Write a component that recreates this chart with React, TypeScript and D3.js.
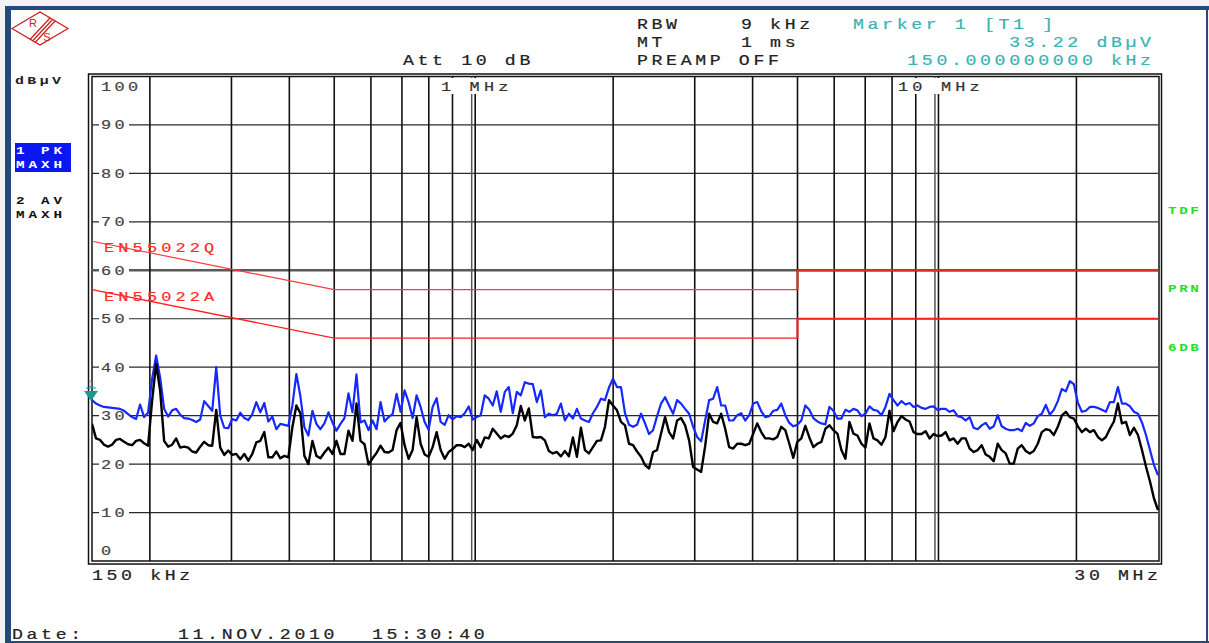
import React from "react";
import * as d3 from "d3";

// ---- Sweep definition (log sweep of the analyzer) ----
const SWEEP_START_HZ = 150e3;
const SWEEP_STOP_HZ = 30e6;

// ---- Axis ticks ----
const Y_TICKS = [0, 10, 20, 30, 40, 50, 60, 70, 80, 90, 100];
const X_GRID_HZ = [
  200e3, 300e3, 400e3, 500e3, 600e3, 700e3, 800e3, 900e3, 1e6,
  2e6, 3e6, 4e6, 5e6, 6e6, 7e6, 8e6, 9e6, 10e6, 20e6,
];
const X_DOUBLE_HZ = [1e6, 10e6];

// ---- Limit lines (EN55022 class B) ----
const LIMIT_Q_HZ = [150e3, 500e3, 5e6];
const LIMIT_Q_DB = [66, 56, 56];
const LIMIT_Q2_HZ = [5e6, 5e6, 30e6];
const LIMIT_Q2_DB = [56, 60, 60];
const LIMIT_A_HZ = [150e3, 500e3, 5e6];
const LIMIT_A_DB = [56, 46, 46];
const LIMIT_A2_HZ = [5e6, 5e6, 30e6];
const LIMIT_A2_DB = [46, 50, 50];

// ---- Trace 1: PK MAXH (dBµV per sweep point) ----
const PK_DBUV = [
  33.2, 32.5, 32.1, 31.8, 31.7, 31.6, 31.5, 31.4, 31.0, 30.3,
  29.7, 29.3, 32.3, 29.7, 30.6, 37.6, 42.4, 37.9, 31.4, 29.8,
  31.1, 31.4, 30.2, 29.5, 29.4, 29.1, 28.7, 29.2, 33.0, 32.0,
  31.0, 40.0, 30.0, 27.5, 27.4, 29.3, 29.0, 30.6, 29.5, 29.1,
  30.3, 32.8, 30.7, 32.6, 28.8, 29.8, 27.2, 28.3, 28.1, 27.9,
  32.1, 38.6, 34.0, 27.6, 25.9, 31.0, 28.3, 27.2, 28.4, 30.7,
  28.6, 26.9, 28.3, 29.5, 34.6, 30.7, 38.5, 28.6, 29.0, 27.0,
  29.0, 27.2,
  32.8, 28.8, 29.7, 30.3, 34.5, 30.8, 35.2, 32.8,
  29.5, 34.2, 31.8, 28.7, 27.1, 31.8, 33.6, 28.7, 28.1, 30.1,
  29.2, 29.9, 29.7, 30.5, 31.9, 29.2, 29.7, 30.1, 34.2, 33.5,
  32.1, 35.0, 30.8, 34.9, 35.9, 30.5, 34.9, 34.2, 36.9, 36.6,
  36.5, 32.8, 35.2, 29.7, 30.4, 30.1, 30.4, 32.5, 29.0, 30.4,
  29.4, 31.4, 29.4, 29.0,
  28.7, 30.5, 31.8, 33.5, 33.2, 35.8, 37.6, 35.9, 35.9, 30.5,
  28.1, 27.7, 28.1, 30.4, 28.4, 26.2, 27.0, 29.9, 32.5, 33.8,
  32.1, 30.4, 33.2, 32.5, 31.4, 30.4, 27.7, 25.6, 24.7, 29.0,
  33.2, 33.5, 35.9, 32.1, 32.1, 29.0, 29.0, 30.1, 30.5, 29.0,
  30.1, 32.5, 32.8, 30.9, 29.7, 29.9, 31.0, 31.2, 32.5, 30.1,
  28.5, 27.8,
  28.1, 29.0, 32.1, 31.2, 29.5, 28.8, 28.4, 28.2, 31.8, 31.0,
  29.4, 29.4, 31.2, 30.8, 31.4, 31.1, 29.9, 30.4, 31.9, 31.2,
  31.0, 30.1, 31.8, 34.5, 33.2, 32.1, 33.0, 32.3, 32.6, 31.8,
  32.1, 31.6, 31.4, 31.8, 31.9, 31.2, 31.4, 31.4, 30.8, 31.1,
  29.9, 29.7, 29.0, 29.7, 27.5, 27.2, 28.0, 28.5, 27.3, 27.8,
  30.1, 27.8,
  27.3, 27.0, 27.0, 27.3, 26.8, 28.5, 27.9, 28.4, 29.9, 30.4,
  32.2, 30.2, 31.2, 33.0, 35.5, 35.0, 37.1, 36.5, 32.7, 30.8,
  31.0, 31.8, 31.8, 31.6, 31.2, 30.8, 32.8, 32.8, 35.9, 32.5,
  32.5, 31.9, 30.8, 30.4, 28.6, 26.0, 22.9, 19.8, 17.7,
];

// ---- Trace 2: AV MAXH (dBµV per sweep point) ----
const AV_DBUV = [
  28.3, 25.3, 25.0, 24.0, 23.6, 24.0, 25.0, 25.2, 24.6, 24.1,
  23.9, 24.8, 25.0, 24.3, 23.8, 33.1, 40.7, 35.2, 24.8, 23.6,
  24.0, 25.3, 23.4, 23.6, 23.4, 22.6, 22.4, 23.6, 24.6, 23.9,
  23.8, 31.2, 23.4, 21.9, 22.8, 21.9, 22.1, 21.0, 22.1, 20.7,
  22.1, 24.5, 24.8, 26.6, 21.4, 21.4, 22.6, 21.2, 21.7, 21.4,
  27.6, 32.1, 30.5, 21.7, 20.0, 24.8, 21.7, 21.2, 22.4, 23.4,
  22.1, 24.8, 22.1, 22.1, 26.9, 24.8, 32.5, 24.8, 24.1, 19.9,
  21.2, 22.3,
  23.8, 22.5, 22.4, 22.9, 27.0, 28.5, 23.9, 21.1,
  22.9, 29.7, 24.2, 22.0, 21.5, 23.5, 26.6, 22.9, 21.1, 22.5,
  23.1, 23.9, 23.9, 23.5, 24.2, 22.9, 25.0, 23.5, 25.5, 25.3,
  27.3, 26.3, 25.3, 25.9, 25.6, 26.3, 28.0, 32.0, 29.0, 31.5,
  25.6, 25.5, 25.6, 24.9, 22.7, 22.2, 22.5, 21.6, 22.7, 21.6,
  25.5, 21.5, 27.5, 22.9,
  22.2, 23.5, 24.8, 24.9, 27.7, 33.2, 32.1, 31.1, 28.7, 28.0,
  24.2, 23.9, 22.6, 21.5, 19.8, 19.1, 22.5, 22.9, 26.3, 29.7,
  26.6, 25.3, 29.0, 29.5, 28.0, 24.9, 19.4, 18.9, 18.4, 23.7,
  30.4, 28.7, 28.4, 30.4, 27.3, 23.5, 23.2, 24.2, 24.2, 23.9,
  24.2, 26.3, 28.4, 26.6, 25.3, 25.3, 25.1, 25.6, 27.7, 27.0,
  24.2, 21.3,
  24.6, 25.3, 27.9, 25.5, 23.5, 24.2, 24.6, 27.3, 28.0, 27.0,
  26.3, 22.9, 21.1, 28.7, 26.3, 25.9, 24.2, 23.4, 28.4, 25.3,
  24.9, 24.0, 25.6, 31.0, 26.8, 28.7, 29.9, 29.2, 28.8, 26.6,
  26.2, 26.2, 26.8, 25.3, 26.2, 25.8, 25.9, 26.6, 24.9, 25.3,
  24.2, 25.3, 25.3, 23.2, 22.5, 22.9, 23.9, 22.0, 21.5, 20.6,
  24.2, 22.9,
  22.2, 20.1, 20.1, 23.2, 23.9, 22.7, 22.2, 22.7, 24.2, 26.6,
  27.2, 27.0, 26.0, 27.7, 30.0, 30.8, 29.7, 29.4, 27.8, 26.6,
  27.3, 26.6, 27.0, 25.6, 24.9, 25.6, 27.3, 28.8, 32.5, 28.4,
  28.7, 26.0, 27.5, 26.0, 22.9, 19.5, 16.4, 12.9, 10.5,
];

const MARKER_HZ = 150e3;
const MARKER_DB = 33.22;

const FONT = "'Liberation Mono', 'DejaVu Sans Mono', monospace";

type TP = {
  x: number; y: number; children: React.ReactNode; anchor?: "start" | "middle" | "end";
  fill?: string; size?: number; weight?: number; sx?: number; ls?: number;
};
function T({ x, y, children, anchor = "start", fill = "#222", size = 14, weight = 400, sx = 1.3, ls = 2.8 }: TP) {
  const dx = anchor === "end" ? ls * sx : anchor === "middle" ? (ls * sx) / 2 : 0;
  return (
    <text
      transform={`translate(${x + dx},${y}) scale(${sx},1)`}
      textAnchor={anchor}
      fontFamily={FONT}
      fontSize={size}
      fontWeight={weight}
      letterSpacing={ls}
      fill={fill}
      stroke={fill}
      strokeWidth={weight > 500 ? 0 : 0.2}
      style={{ whiteSpace: "pre" }}
    >
      {children}
    </text>
  );
}

export default function App() {
  const W = 1209, H = 643;
  const X0 = 92, X1 = 1158, Y0 = 76.5, Y1 = 561;
  const x = d3.scaleLog().domain([SWEEP_START_HZ, SWEEP_STOP_HZ]).range([X0, X1]);
  const y = d3.scaleLinear().domain([0, 100]).range([Y1, Y0]);

  const n = PK_DBUV.length;
  const sweepHz = d3.range(n).map((i) => SWEEP_START_HZ * Math.pow(SWEEP_STOP_HZ / SWEEP_START_HZ, i / (n - 1)));
  const trace = d3.line<number>().x((_, i) => x(sweepHz[i])).y((d) => y(d));
  const lim = (hz: number[], db: number[]) =>
    d3.line<number>().x((h) => x(h)).y((_, i) => y(db[i]))(hz) as string;

  const mx = x(MARKER_HZ) - 1;
  const my = y(MARKER_DB);

  return (
    <svg width={W} height={H} style={{ position: "absolute", left: 0, top: 0, display: "block" }}>
      <rect x={0} y={0} width={W} height={H} fill="#f3f3f3" />
      <rect x={8} y={8} width={1199} height={635} fill="#ffffff" />
      {/* blue frame */}
      <rect x={5} y={6} width={1204} height={4} fill="#25497a" />
      <rect x={5} y={6} width={6} height={637} fill="#25497a" />
      <rect x={1206} y={6} width={2} height={637} fill="#25497a" />
      <rect x={5} y={641} width={1204} height={2} fill="#25497a" />

      {/* R&S logo */}
      <g stroke="#cc1a1a" fill="none" strokeWidth={1.2}>
        <polygon points="12,28.5 40,12 68,28.5 40,45" />
        <line x1={50} y1={18} x2={30} y2={39.5} />
        <line x1={52.5} y1={19.5} x2={32.5} y2={41} />
        <line x1={55} y1={21} x2={35} y2={42.5} />
      </g>
      <text x={33} y={27} fontFamily="'Liberation Sans', sans-serif" fontSize={11} fill="#cc1a1a" textAnchor="middle">R</text>
      <text x={47} y={41} fontFamily="'Liberation Sans', sans-serif" fontSize={11} fill="#cc1a1a" textAnchor="middle">S</text>

      {/* header */}
      <T x={637} y={29}>RBW</T>
      <T x={741} y={29}>9 kHz</T>
      <T x={853} y={29} fill="#3ab3b3">Marker 1 [T1 ]</T>
      <T x={637} y={47}>MT</T>
      <T x={741} y={47}>1 ms</T>
      <T x={1151} y={47} anchor="end" fill="#3ab3b3">33.22 dBµV</T>
      <T x={403} y={65}>Att 10 dB</T>
      <T x={637} y={65}>PREAMP OFF</T>
      <T x={1151} y={65} anchor="end" fill="#3ab3b3">150.000000000 kHz</T>

      {/* left labels */}
      <T x={15} y={84} weight={700} size={11.5} sx={1.3} ls={2.6} fill="#222">dBµV</T>
      <rect x={15} y={143} width={56} height={29} fill="#0b17f2" />
      <T x={16} y={154} weight={700} size={11} sx={1.3} ls={3} fill="#ffffff">1 PK</T>
      <T x={16} y={168} weight={700} size={11} sx={1.3} ls={3} fill="#ffffff">MAXH</T>
      <T x={16} y={204} weight={700} size={11} sx={1.3} ls={3} fill="#111">2 AV</T>
      <T x={16} y={218} weight={700} size={11} sx={1.3} ls={3} fill="#111">MAXH</T>

      {/* right labels */}
      <T x={1168} y={214} weight={700} size={11} sx={1.3} ls={2} fill="#22e022">TDF</T>
      <T x={1168} y={292} weight={700} size={11} sx={1.3} ls={2} fill="#22e022">PRN</T>
      <T x={1168} y={351} weight={700} size={11} sx={1.3} ls={2} fill="#22e022">6DB</T>

      {/* frame of diagram */}
      <rect x={88.5} y={74} width={1073} height={490} fill="none" stroke="#111" strokeWidth={1.5} />
      <rect x={X0} y={Y0} width={X1 - X0 + 1} height={Y1 - Y0} fill="none" stroke="#111" strokeWidth={1.5} />

      {/* horizontal grid */}
      {Y_TICKS.filter((t) => t > 0 && t < 100).map((t) => (
        <line key={"h" + t} x1={X0} x2={X1} y1={y(t)} y2={y(t)}
          stroke={t === 60 ? "#5a5a5a" : "#2a2a2a"} strokeWidth={t === 60 ? 2.5 : 1.2} />
      ))}
      {/* vertical grid */}
      {X_GRID_HZ.map((f) =>
        X_DOUBLE_HZ.includes(f) ? (
          <g key={"v" + f}>
            <line x1={x(f) - 2} x2={x(f) - 2} y1={Y0} y2={Y1} stroke="#555" strokeWidth={1.5} />
            <line x1={x(f) + 1.5} x2={x(f) + 1.5} y1={Y0} y2={Y1} stroke="#111" strokeWidth={1.6} />
          </g>
        ) : (
          <line key={"v" + f} x1={x(f)} x2={x(f)} y1={Y0} y2={Y1} stroke="#111" strokeWidth={1.6} />
        )
      )}

      {/* y tick labels */}
      {Y_TICKS.map((t) => {
        const ty = t === 100 ? y(t) + 10 : t === 0 ? y(t) - 11 : y(t);
        const w = t === 100 ? 42 : t === 0 ? 16 : 30;
        return (
          <g key={"yl" + t}>
            <rect x={99} y={ty - 6} width={w} height={12} fill="#fff" />
            <T x={101} y={ty + 4.5} size={13} ls={2.6} fill="#444">{String(t)}</T>
          </g>
        );
      })}

      {/* decade labels */}
      <rect x={437} y={78} width={80} height={16} fill="#fff" />
      <T x={441} y={91} size={13} ls={3.2} fill="#333">1 MHz</T>
      <rect x={894} y={78} width={95} height={16} fill="#fff" />
      <T x={898} y={91} size={13} ls={3.2} fill="#333">10 MHz</T>

      {/* limit lines */}
      <path d={lim(LIMIT_Q_HZ, LIMIT_Q_DB)} fill="none" stroke="#ff3a3a" strokeWidth={1.2} />
      <path d={lim(LIMIT_Q2_HZ, LIMIT_Q2_DB)} fill="none" stroke="#d8301f" strokeWidth={2.2} />
      <path d={lim(LIMIT_A_HZ, LIMIT_A_DB)} fill="none" stroke="#ff1e1e" strokeWidth={1.3} />
      <path d={lim(LIMIT_A2_HZ, LIMIT_A2_DB)} fill="none" stroke="#ff1e1e" strokeWidth={2} />
      <T x={104} y={252} size={13} ls={3.2} fill="#ff2a2a">EN55022Q</T>
      <T x={104} y={301} size={13} ls={3.2} fill="#ff2a2a">EN55022A</T>

      {/* traces */}
      <defs>
        <clipPath id="plotclip">
          <rect x={X0} y={Y0} width={X1 - X0 + 1} height={Y1 - Y0} />
        </clipPath>
      </defs>
      <g clipPath="url(#plotclip)">
        <path d={trace(PK_DBUV) as string} fill="none" stroke="#1428ff" strokeWidth={2.2} strokeLinejoin="round" />
        <path d={trace(AV_DBUV) as string} fill="none" stroke="#000" strokeWidth={2.4} strokeLinejoin="round" />
      </g>

      {/* marker */}
      <polygon points={`${mx - 7},${my - 9} ${mx + 7},${my - 9} ${mx},${my + 1}`} fill="#1a9898" />
      <line x1={mx - 5} x2={mx + 5} y1={my - 12} y2={my - 12} stroke="#1a9898" strokeWidth={1} />
      <text x={mx} y={my - 13} fontFamily={FONT} fontSize={10} fill="#1a9898" textAnchor="middle">1</text>

      {/* bottom labels */}
      <T x={92} y={580}>150 kHz</T>
      <T x={1158} y={580} anchor="end">30 MHz</T>
      <T x={12} y={639}>Date:</T>
      <T x={178} y={639}>11.NOV.2010</T>
      <T x={372} y={639}>15:30:40</T>
    </svg>
  );
}
